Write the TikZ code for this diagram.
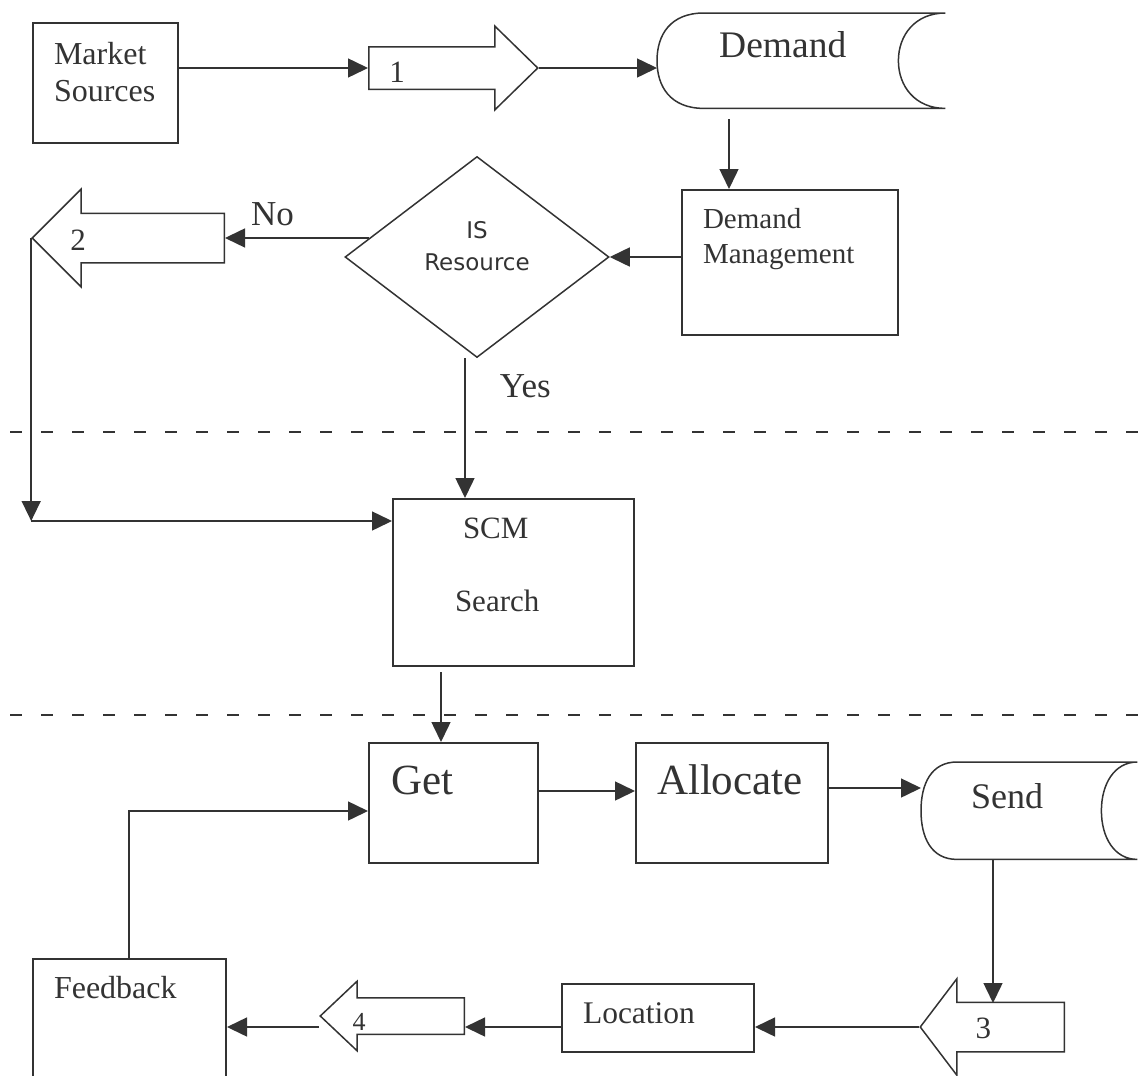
\documentclass[tikz,border=0pt]{standalone}
\usepackage{fontspec}
\setmainfont{Liberation Serif}
\newfontfamily\diamfont{DejaVu Sans}
\usepackage{tikz}
\usetikzlibrary{arrows.meta,positioning,shapes.geometric,shapes.arrows,calc}

\definecolor{ink}{HTML}{333333}

% outline of a stored-data symbol round a (borderless) node
\newcommand{\storeoutline}[2]{%
  \draw[shapeline] ($(#1.north west)+(#2,0)$) -- (#1.north east)
    .. controls ($(#1.north east)+(-0.64*#2,0)$) and ($(#1.north east)+(-#2,22)$) .. ($(#1.east)+(-#2,0)$)
    .. controls ($(#1.south east)+(-#2,-22)$) and ($(#1.south east)+(-0.64*#2,0)$) .. (#1.south east)
    -- ($(#1.south west)+(#2,0)$)
    .. controls ($(#1.south west)+(0.28*#2,0)$) and ($(#1.south west)+(0,-22)$) .. (#1.west)
    .. controls ($(#1.north west)+(0,22)$) and ($(#1.north west)+(0.28*#2,0)$) .. ($(#1.north west)+(#2,0)$);}

\begin{document}
\begin{tikzpicture}[
    x=1pt, y=-1pt,
    >={Triangle[length=20pt,width=19pt]},
    shapeline/.style={draw=ink, line width=1.5pt},
    box/.style={rectangle, draw=ink, line width=2pt, anchor=north west,
                inner ysep=0pt, align=left, text=ink},
    store/.style={rectangle, anchor=north west, inner ysep=0pt, align=left, text=ink},
    decision/.style={diamond, draw=ink, line width=1.5pt, inner sep=0pt, align=center,
                     text=ink, font=\diamfont\fontsize{23pt}{32pt}\selectfont},
    blockarr/.style={single arrow, draw=ink, line width=1.5pt, inner xsep=0pt,
                     single arrow head indent=0pt, anchor=tail},
    num/.style={text=ink, inner sep=0pt, font=\fontsize{31pt}{36pt}\selectfont},
    arr/.style={->, draw=ink, line width=1.5pt},
    lbl/.style={text=ink, inner sep=0pt, font=\fontsize{35pt}{40pt}\selectfont},
    sep/.style={draw=ink, line width=2.5pt, dash pattern=on 12pt off 19pt}
]
\useasboundingbox (0,0) rectangle (1138,1076);

% Top part: demand side
\node[box, font=\fontsize{32pt}{37pt}\selectfont, text width=103pt, inner xsep=21pt,
      text height=41pt, text depth=79pt] (market) at (32,22) {Market\\Sources};
\node[blockarr, minimum height=169pt, minimum width=82pt, inner ysep=20.5pt,
      single arrow head extend=20.5pt, single arrow tip angle=88.6] (a1) at (368,68) {};
\node[num] (n1) at ($(a1.tail)+(29,4)$) {1};
\node[store, font=\fontsize{37.5pt}{42pt}\selectfont, text width=164pt, inner xsep=62pt,
      text height=44pt, text depth=51pt] (demand) at (657,13) {Demand};
\storeoutline{demand}{47}
\node[box, font=\fontsize{29pt}{35pt}\selectfont, text width=174pt, inner xsep=21pt,
      text height=38pt, text depth=107pt] (dm) at (681,189) {Demand\\Management};
\node[decision, minimum width=264pt, minimum height=201pt, text width=120pt,
      text height=20pt, text depth=57pt] (isres) at (477,257) {IS\\Resource};
\node[blockarr, shape border rotate=180, minimum height=192pt, minimum width=96pt,
      inner ysep=24pt, single arrow head extend=24pt, single arrow tip angle=90] (a2) at (225,238) {};
\node[num] (n2) at ($(a2.tip)+(47,2)$) {2};

% Middle part: search
\node[box, font=\fontsize{31pt}{36pt}\selectfont, text width=117pt, inner xsep=62pt,
      text height=39pt, text depth=128pt] (scm) at (392,498) {\hspace*{8pt}SCM\\[37pt]Search};

% Bottom part: delivery
\node[box, font=\fontsize{43pt}{48pt}\selectfont, text width=125pt, inner xsep=22pt,
      text height=51pt, text depth=69pt] (get) at (368,742) {Get};
\node[box, font=\fontsize{43pt}{48pt}\selectfont, text width=150pt, inner xsep=21pt,
      text height=51pt, text depth=69pt, right=96pt of get] (allocate) {Allocate};
\node[store, font=\fontsize{36pt}{42pt}\selectfont, text width=116pt, inner xsep=50pt,
      text height=46pt, text depth=51pt] (send) at (921,762) {Send};
\storeoutline{send}{36}
\node[blockarr, shape border rotate=180, minimum height=144pt, minimum width=95pt,
      inner ysep=24pt, single arrow head extend=23.5pt, single arrow tip angle=105.6] (a3) at (1065,1027) {};
\node[num] (n3) at ($(a3.tip)+(64,1)$) {3};
\node[box, font=\fontsize{31.5pt}{36pt}\selectfont, text width=150pt, inner xsep=21pt,
      text height=39pt, text depth=29pt] (location) at (561,983) {Location};
\node[blockarr, shape border rotate=180, minimum height=144pt, minimum width=68pt,
      inner ysep=17.5pt, single arrow head extend=16.5pt, single arrow tip angle=86.7] (a4) at (465,1016) {};
\node[num, font=\fontsize{26pt}{30pt}\selectfont] (n4) at ($(a4.tip)+(40,6)$) {4};
\node[box, font=\fontsize{32pt}{37pt}\selectfont, text width=151pt, inner xsep=21pt,
      text height=39pt, text depth=83pt] (feedback) at (32,958) {Feedback};

% Phase separators
\draw[sep] (10,432) -- (1138,432);
\draw[sep] (10,715) -- (1138,715);

% Connectors
\draw[arr] (market.east |- a1.tail) -- (a1.tail);
\draw[arr] (a1.tip) -- (a1.tip -| demand.west);
\draw[arr] ([xshift=48pt,yshift=-11pt]dm.north west |- demand.south) -- ([xshift=48pt]dm.north west);
\draw[arr] (dm.west |- isres.east) -- (isres.east);
\draw[arr] (isres.170) -- (isres.170 -| a2.tail) node[lbl, pos=0.67, above=11pt] {No};
\draw[arr] ([xshift=-12pt]isres.south) -- ([xshift=-12pt]isres.south |- scm.north)
           node[lbl, pos=0.2, right=34pt] {Yes};
\coordinate (nojoin) at ($(a2.tip)+(0,283)$);
\draw[arr] (a2.tip) -- (nojoin);
\draw[arr] (nojoin) -- (nojoin -| scm.west);
\draw[arr] ([xshift=49pt,yshift=-5pt]scm.south west) -- ([xshift=73pt]get.north west);
\draw[arr] ([yshift=12pt]get.east) -- ([yshift=12pt]allocate.west);
\draw[arr] ([yshift=15pt]allocate.east) -- ([yshift=15pt]allocate.east -| send.west);
\draw[arr] ([xshift=72pt]send.south west) -- ($(a3.tail)+(-72,-24)$);
\draw[arr] (a3.tip) -- (a3.tip -| location.east);
\draw[arr] (location.west |- a3.tip) -- (a4.tail |- a3.tip);
\draw[arr] (a4.tip |- a3.tip) -- (feedback.east |- a3.tip);
\draw[arr] ([xshift=97pt]feedback.north west) |- ([yshift=-8pt]get.west);
\end{tikzpicture}
\end{document}
